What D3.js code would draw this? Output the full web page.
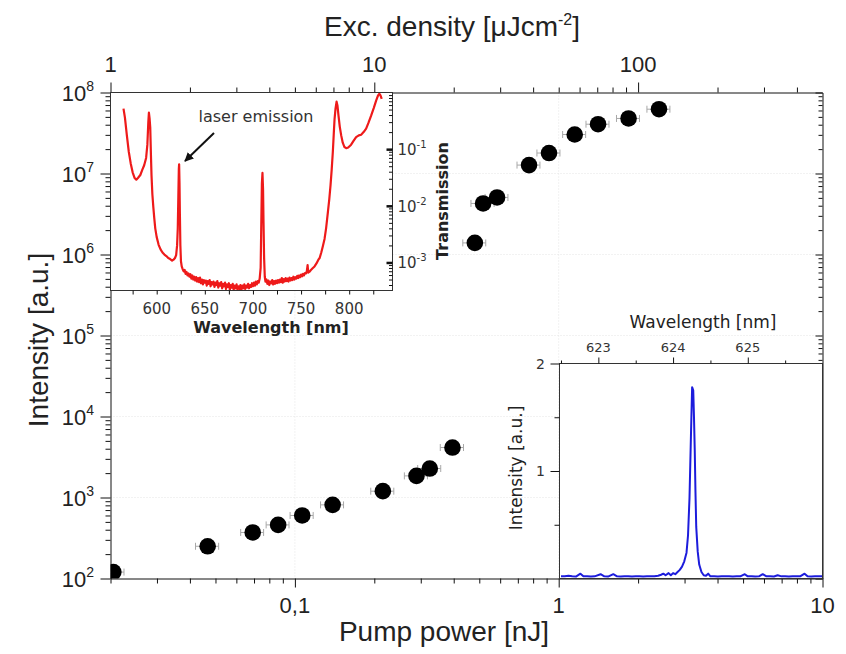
<!DOCTYPE html>
<html>
<head>
<meta charset="utf-8">
<script src="https://cdn.jsdelivr.net/npm/d3@7"></script>
<style>
  body { margin: 0; background: #fff; }
  svg { display: block; }
</style>
</head>
<body>
<svg id="chart" width="846" height="654"></svg>
<script>
// ---------- Lasing threshold data (pump power in nJ vs. emitted intensity) ----------
const powerBelow = [0.0205, 0.0467, 0.0692, 0.0864, 0.1066, 0.139, 0.2155, 0.289, 0.3246, 0.3957];
const intensityBelow = [120, 250, 370, 459, 600, 811, 1197, 1849, 2280, 4140];
const powerErrBelow = [0.002, 0.0047, 0.0069, 0.0086, 0.0107, 0.0139, 0.0216, 0.029, 0.0325, 0.04];

const powerAbove = [0.481, 0.517, 0.584, 0.772, 0.919, 1.15, 1.41, 1.84, 2.40];
const intensityAbove = [1.39e6, 4.27e6, 5.06e6, 1.27e7, 1.79e7, 3.03e7, 4.06e7, 4.78e7, 6.22e7];
const powerErrAbove = [0.048, 0.052, 0.058, 0.077, 0.092, 0.115, 0.141, 0.184, 0.24];

// Tick labels of the main axes
const powerTicks = [0.1, 1, 10];
const powerTickLabels = ["0,1", "1", "10"];
const densityTicks = [1, 10, 100];
const densityTickLabels = ["1", "10", "100"];
const intensityTicks = [1e2, 1e3, 1e4, 1e5, 1e6, 1e7, 1e8];
const intensityExponents = ["2", "3", "4", "5", "6", "7", "8"];

// ---------- Transmission spectrum of the resonator (upper-left inset) ----------
const specWl = [
  565.5, 567, 569, 571, 573, 575, 577, 578.8, 580.5, 583, 585, 587, 589, 590.3, 591.3, 591.9, 592.6, 593.3,
  594, 594.6, 595.5, 596.5, 597.5, 598.5, 600, 602, 604, 606, 608, 610, 612, 614, 616, 617.5, 619, 620.2,
  621.2, 621.9, 622.5, 623.0, 623.3, 623.7, 624.1, 624.6, 625.2, 626, 627, 628, 629, 630, 631, 632, 633,
  634, 635, 636, 637, 638, 639, 640, 641, 642, 643, 644, 645, 646, 647, 648, 649, 650, 651, 652, 653, 654,
  655, 656, 657, 658, 659, 660, 661, 662, 663, 664, 665, 666, 667, 668, 669, 670, 671, 672, 673, 674, 675,
  676, 677, 678, 679, 680, 681, 682, 683, 684, 685, 686, 687, 688, 689, 690, 691, 692, 693, 694, 695, 696,
  697, 698, 699, 700, 701, 702, 703, 704, 705, 706, 707, 708, 708.6, 709.3, 709.9, 710.5, 711, 711.6, 712.3,
  713, 714, 715, 716, 717, 718, 719, 720, 721, 722, 723, 724, 725, 726, 727, 728, 729, 730, 731, 732, 733,
  734, 735, 736, 737, 738, 739, 740, 741, 742, 743, 744, 745, 746, 747, 748, 749, 750, 751, 752, 753, 754,
  755, 756, 756.8, 757.4, 758.5, 760, 762, 764, 766, 768, 769.3, 771, 772.5, 774.4, 776, 777.9, 779.3,
  780.6, 781.8, 783, 784, 784.8, 785.8, 786.9, 787.8, 788.9, 790.2, 791.7, 793.3, 795.1, 796.9, 799, 802,
  804.5, 807.2, 810, 812.4, 815, 817.6, 820, 822.8, 825.5, 828, 830, 831.4, 832.5, 833.8
];
const specT = [
  5.2e-1, 3.6e-1, 1.75e-1, 9.0e-2, 5.6e-2, 3.9e-2, 3.1e-2, 2.9e-2, 3.1e-2, 3.5e-2, 4.3e-2, 5.2e-2, 7.0e-2,
  1.2e-1, 3.0e-1, 4.4e-1, 3.5e-1, 2.4e-1,
  8.0e-2, 3.5e-2, 1.6e-2, 9.5e-3, 6.0e-3, 4.0e-3, 2.8e-3, 2.05e-3, 1.7e-3, 1.5e-3, 1.38e-3, 1.3e-3, 1.2e-3,
  1.15e-3, 1.08e-3, 1.12e-3, 1.2e-3, 1.35e-3,
  2.0e-3, 4.0e-3, 1.5e-2, 4.5e-2, 5.4e-2, 2.5e-2, 7e-3, 2.0e-3, 1.05e-3, 8.5e-4, 7.6e-4, 7.0e-4, 7.4e-4,
  6.3e-4, 6.8e-4, 5.9e-4, 6.4e-4,
  5.6e-4, 6.2e-4, 5.2e-4, 5.9e-4, 5.0e-4, 5.6e-4, 4.8e-4, 5.5e-4, 4.6e-4, 5.3e-4, 4.5e-4, 5.4e-4, 4.3e-4,
  5.0e-4, 4.1e-4, 4.9e-4, 4.4e-4, 4.8e-4, 3.9e-4, 4.7e-4, 4.2e-4,
  4.9e-4, 3.8e-4, 4.5e-4, 4.1e-4, 4.6e-4, 3.7e-4, 4.4e-4, 4.0e-4, 4.7e-4, 3.6e-4, 4.3e-4, 3.9e-4, 4.5e-4,
  3.5e-4, 4.2e-4, 3.8e-4, 4.4e-4, 3.4e-4, 4.1e-4, 3.7e-4, 4.3e-4,
  3.3e-4, 4.0e-4, 3.6e-4, 4.2e-4, 3.3e-4, 3.9e-4, 3.5e-4, 4.1e-4, 3.3e-4, 3.8e-4, 3.4e-4, 4.0e-4, 3.3e-4,
  3.9e-4, 3.5e-4, 4.1e-4, 3.4e-4, 3.9e-4, 3.6e-4, 4.2e-4, 3.5e-4,
  4.0e-4, 3.7e-4, 4.3e-4, 3.8e-4, 4.4e-4, 3.9e-4, 4.6e-4, 4.1e-4, 4.7e-4, 4.4e-4, 5.2e-4, 8.0e-4, 4.0e-3,
  2.5e-2, 3.8e-2, 2.0e-2, 5.0e-3, 1.2e-3, 5.6e-4,
  4.6e-4, 5.0e-4, 4.2e-4, 4.8e-4, 4.0e-4, 4.6e-4, 4.3e-4, 4.9e-4, 4.1e-4, 4.7e-4, 4.2e-4, 4.8e-4, 4.3e-4,
  4.9e-4, 4.4e-4, 5.0e-4, 4.5e-4, 5.3e-4, 4.4e-4, 5.1e-4, 4.6e-4,
  5.3e-4, 4.7e-4, 5.2e-4, 4.6e-4, 5.4e-4, 4.8e-4, 5.3e-4, 4.9e-4, 5.6e-4, 5.0e-4, 5.5e-4, 5.2e-4, 5.8e-4,
  5.3e-4, 5.9e-4, 5.5e-4, 6.1e-4, 5.7e-4, 6.3e-4, 5.9e-4, 6.5e-4,
  6.4e-4, 7.0e-4, 9.0e-4, 6.6e-4, 6.8e-4, 7.3e-4, 7.9e-4, 8.5e-4, 9.6e-4, 1.12e-3, 1.2e-3, 1.5e-3, 1.9e-3,
  2.6e-3, 4.0e-3, 7.8e-3, 1.3e-2,
  2.3e-2, 4.3e-2, 8.9e-2, 1.9e-1, 3.4e-1, 5.2e-1, 6.9e-1, 5.9e-1, 3.9e-1, 2.5e-1, 1.75e-1, 1.3e-1, 1.09e-1,
  1.04e-1, 1.07e-1, 1.2e-1,
  1.4e-1, 1.63e-1, 1.75e-1, 1.8e-1, 2.0e-1, 2.3e-1, 2.9e-1, 3.9e-1, 5.3e-1, 7.2e-1, 8.9e-1, 9.5e-1, 8.9e-1, 7.7e-1
];
const specTicks = [600, 650, 700, 750, 800];
const specMinorTicks = [575, 625, 675, 725, 775, 825];
const transTicks = [1e-3, 1e-2, 1e-1];
const transExponents = ["-3", "-2", "-1"];

// ---------- Laser line (lower-right inset) ----------
const lineWl = [
  622.50, 622.55, 622.60, 622.65, 622.70, 622.76, 622.80, 622.85, 622.90, 622.95, 623.03, 623.08, 623.13,
  623.20, 623.25, 623.30, 623.35, 623.40, 623.45, 623.50, 623.55, 623.60, 623.65, 623.70, 623.75, 623.80,
  623.84, 623.87, 623.90, 623.94, 623.97, 624.00, 624.03, 624.06, 624.09, 624.12, 624.15, 624.18, 624.20,
  624.22, 624.24, 624.255, 624.27, 624.28, 624.29, 624.30, 624.31, 624.33, 624.35, 624.38, 624.41, 624.44,
  624.47, 624.50, 624.55, 624.60, 624.65, 624.70, 624.75, 624.80, 624.85, 624.90, 624.96, 625.00, 625.05,
  625.10, 625.15, 625.20, 625.25, 625.30, 625.35, 625.40, 625.45, 625.50, 625.55, 625.60, 625.65, 625.70,
  625.76, 625.80, 625.85, 625.90, 625.95, 626.00
];
const lineI = [
  0.02, 0.02, 0.025, 0.02, 0.018, 0.045, 0.02, 0.022, 0.018, 0.02, 0.04, 0.02, 0.018,
  0.04, 0.02, 0.018, 0.02, 0.022, 0.018, 0.02, 0.02, 0.018, 0.02, 0.022, 0.02, 0.025,
  0.035, 0.045, 0.03, 0.05, 0.03, 0.05, 0.04, 0.06, 0.08, 0.11, 0.16, 0.24, 0.40,
  0.75, 1.35, 1.78, 1.75, 1.50, 1.20, 0.80, 0.48, 0.25, 0.13, 0.06, 0.03, 0.025,
  0.045, 0.02, 0.02, 0.018, 0.02, 0.022, 0.02, 0.018, 0.02, 0.02, 0.04, 0.02, 0.022,
  0.018, 0.02, 0.04, 0.02, 0.02, 0.018, 0.03, 0.02, 0.02, 0.018, 0.022, 0.02, 0.02,
  0.045, 0.02, 0.018, 0.02, 0.022, 0.02
];
const lineWlTicks = [623, 624, 625];
const lineWlMinor = [622.5, 623.5, 624.5, 625.5];
const lineITicks = [1, 2];
const lineIMinor = [0.5, 1.5];

// ---------- Layout ----------
const svg = d3.select("#chart");
const TICK_FONT = "'Liberation Sans', Arial, sans-serif";
const INSET_FONT = "'DejaVu Sans', Verdana, sans-serif";
const P = { l: 110.5, r: 822.5, t: 92.5, b: 578.5 };

const x = d3.scaleLog().domain([0.02, 10]).range([P.l, P.r]);
const xTop = d3.scaleLog().domain([1, 500]).range([P.l, P.r]);
const y = d3.scaleLog().domain([1e2, 1e8]).range([P.b, P.t]);

function logMinors(lo, hi) {
  const out = [];
  for (let e = Math.floor(Math.log10(lo)); e <= Math.ceil(Math.log10(hi)); e++) {
    for (let m = 2; m <= 9; m++) {
      const v = m * Math.pow(10, e);
      if (v >= lo * 0.999 && v <= hi * 1.001) out.push(v);
    }
  }
  return out;
}

function styleAxis(g, width) {
  g.selectAll("path.domain").attr("stroke", "#111").attr("stroke-width", width || 1);
  g.selectAll(".tick line").attr("stroke", "#111");
}

// faint dotted grid at the major decades
const grid = svg.append("g");
grid.selectAll("line.gx").data([0.1, 1]).join("line")
  .attr("x1", d => x(d)).attr("x2", d => x(d)).attr("y1", P.t).attr("y2", P.b)
  .attr("stroke", "#e4e4e4").attr("stroke-dasharray", "1,2");
grid.selectAll("line.gy").data([1e3, 1e4, 1e5, 1e6, 1e7]).join("line")
  .attr("x1", P.l).attr("x2", P.r).attr("y1", d => y(d)).attr("y2", d => y(d))
  .attr("stroke", "#e4e4e4").attr("stroke-dasharray", "1,2");

// ---------- Main axes ----------
const gBottom = svg.append("g").attr("transform", `translate(0,${P.b})`)
  .call(d3.axisBottom(x).tickValues(powerTicks).tickSize(9).tickSizeOuter(0).tickFormat(""));
svg.append("g").attr("transform", `translate(0,${P.b})`)
  .call(d3.axisBottom(x).tickValues(logMinors(0.02, 10)).tickSize(5).tickSizeOuter(0).tickFormat(""))
  .call(g => g.select("path.domain").remove()).call(styleAxis);
styleAxis(gBottom);
svg.append("g").selectAll("text").data(powerTicks).join("text")
  .attr("x", d => x(d)).attr("y", 613).attr("text-anchor", "middle")
  .attr("font-family", TICK_FONT).attr("font-size", 22).attr("fill", "#222")
  .text((d, i) => powerTickLabels[i]);

const gTop = svg.append("g").attr("transform", `translate(0,${P.t})`)
  .call(d3.axisTop(xTop).tickValues(densityTicks).tickSize(10).tickSizeOuter(0).tickFormat(""));
svg.append("g").attr("transform", `translate(0,${P.t})`)
  .call(d3.axisTop(xTop).tickValues(logMinors(1, 500).filter(v => v < 499)).tickSize(5).tickSizeOuter(0).tickFormat(""))
  .call(g => g.select("path.domain").remove()).call(styleAxis);
styleAxis(gTop);
svg.append("g").selectAll("text").data(densityTicks).join("text")
  .attr("x", d => xTop(d)).attr("y", 72).attr("text-anchor", "middle")
  .attr("font-family", TICK_FONT).attr("font-size", 22).attr("fill", "#222")
  .text((d, i) => densityTickLabels[i]);

const gLeft = svg.append("g").attr("transform", `translate(${P.l},0)`)
  .call(d3.axisLeft(y).tickValues(intensityTicks).tickSize(10).tickSizeOuter(0).tickFormat(""));
svg.append("g").attr("transform", `translate(${P.l},0)`)
  .call(d3.axisLeft(y).tickValues(logMinors(1e2, 1e8)).tickSize(5).tickSizeOuter(0).tickFormat(""))
  .call(g => g.select("path.domain").remove()).call(styleAxis);
styleAxis(gLeft);
const yLab = svg.append("g").selectAll("text").data(intensityTicks).join("text")
  .attr("x", 94).attr("y", d => y(d) + 8).attr("text-anchor", "end")
  .attr("font-family", TICK_FONT).attr("font-size", 22).attr("fill", "#222");
yLab.append("tspan").text("10");
yLab.append("tspan").attr("dy", -10).attr("font-size", 14).text((d, i) => intensityExponents[i]);

const gRight = svg.append("g").attr("transform", `translate(${P.r},0)`)
  .call(d3.axisRight(y).tickValues(intensityTicks).tickSize(-7).tickSizeOuter(0).tickFormat(""));
svg.append("g").attr("transform", `translate(${P.r},0)`)
  .call(d3.axisRight(y).tickValues(logMinors(1e2, 1e8)).tickSize(-4).tickSizeOuter(0).tickFormat(""))
  .call(g => g.select("path.domain").remove()).call(styleAxis);
styleAxis(gRight);

// ---------- Data points with horizontal error bars ----------
svg.append("clipPath").attr("id", "plotClip").append("rect")
  .attr("x", P.l).attr("y", P.t).attr("width", P.r - P.l).attr("height", P.b - P.t);

const points = powerBelow.map((p, i) => ({ p, I: intensityBelow[i], e: powerErrBelow[i] }))
  .concat(powerAbove.map((p, i) => ({ p, I: intensityAbove[i], e: powerErrAbove[i] })));

const gPts = svg.append("g").attr("clip-path", "url(#plotClip)");
const eb = gPts.selectAll("g.eb").data(points).join("g").attr("stroke", "#a8a8a8").attr("stroke-width", 1);
eb.append("line").attr("x1", d => x(d.p - d.e)).attr("x2", d => x(d.p + d.e))
  .attr("y1", d => y(d.I)).attr("y2", d => y(d.I));
eb.append("line").attr("x1", d => x(d.p - d.e)).attr("x2", d => x(d.p - d.e))
  .attr("y1", d => y(d.I) - 3.5).attr("y2", d => y(d.I) + 3.5);
eb.append("line").attr("x1", d => x(d.p + d.e)).attr("x2", d => x(d.p + d.e))
  .attr("y1", d => y(d.I) - 3.5).attr("y2", d => y(d.I) + 3.5);
gPts.selectAll("circle").data(points).join("circle")
  .attr("cx", d => x(d.p)).attr("cy", d => y(d.I)).attr("r", 8.3).attr("fill", "#000");

// ---------- Upper-left inset: transmission spectrum ----------
const A = { l: 110.5, r: 392.5, t: 92.5, b: 290.5 };
const xs = d3.scaleLinear().domain([552, 845]).range([A.l, A.r]);
const ys = d3.scaleLog().domain([3.2e-4, 1]).range([A.b, A.t]);
const inset1 = svg.append("g");
inset1.append("rect").attr("x", A.l).attr("y", A.t).attr("width", A.r - A.l).attr("height", A.b - A.t)
  .attr("fill", "#fff");
inset1.append("clipPath").attr("id", "specClip").append("rect")
  .attr("x", A.l).attr("y", A.t - 2).attr("width", A.r - A.l).attr("height", A.b - A.t + 2);
inset1.append("path")
  .datum(specWl.map((w, i) => [w, specT[i]]))
  .attr("clip-path", "url(#specClip)")
  .attr("fill", "none").attr("stroke", "#ee1a1a").attr("stroke-width", 2.2).attr("stroke-linejoin", "round")
  .attr("d", d3.line().x(d => xs(d[0])).y(d => ys(d[1])));
inset1.append("rect").attr("x", A.l).attr("y", A.t).attr("width", A.r - A.l).attr("height", A.b - A.t)
  .attr("fill", "none").attr("stroke", "#333").attr("stroke-width", 1);

const gA1 = inset1.append("g").attr("transform", `translate(0,${A.b})`)
  .call(d3.axisBottom(xs).tickValues(specTicks.concat(specMinorTicks)).tickSize(4).tickSizeOuter(0).tickFormat(""));
gA1.select("path.domain").remove(); styleAxis(gA1);
inset1.append("g").selectAll("text").data(specTicks).join("text")
  .attr("x", d => xs(d)).attr("y", 314).attr("text-anchor", "middle")
  .attr("font-family", INSET_FONT).attr("font-size", 15).attr("fill", "#333").text(d => d);
inset1.append("text").attr("x", 271).attr("y", 333).attr("text-anchor", "middle")
  .attr("font-family", INSET_FONT).attr("font-size", 16).attr("font-weight", "bold").attr("fill", "#222")
  .text("Wavelength [nm]");

const gA2 = inset1.append("g").attr("transform", `translate(${A.r},0)`)
  .call(d3.axisRight(ys).tickValues(transTicks).tickSize(-6).tickSizeOuter(0).tickFormat(""));
gA2.select("path.domain").remove(); styleAxis(gA2);
gA2.selectAll(".tick line").attr("stroke-width", 2.5);
const gA3 = inset1.append("g").attr("transform", `translate(${A.r},0)`)
  .call(d3.axisRight(ys).tickValues(logMinors(3.2e-4, 1)).tickSize(-3.5).tickSizeOuter(0).tickFormat(""));
gA3.select("path.domain").remove(); styleAxis(gA3);
const tLab = inset1.append("g").selectAll("text").data(transTicks).join("text")
  .attr("x", A.r + 5).attr("y", d => ys(d) + 6).attr("font-family", INSET_FONT)
  .attr("font-size", 15).attr("fill", "#333");
tLab.append("tspan").text("10");
tLab.append("tspan").attr("dy", -7).attr("font-size", 10).text((d, i) => transExponents[i]);
inset1.append("text").attr("transform", "translate(448,201) rotate(-90)").attr("text-anchor", "middle")
  .attr("font-family", INSET_FONT).attr("font-size", 16).attr("font-weight", "bold").attr("fill", "#222")
  .text("Transmission");

// annotation of the lasing mode
svg.append("defs").append("marker").attr("id", "arrowHead")
  .attr("viewBox", "0 0 10 10").attr("refX", 9).attr("refY", 5)
  .attr("markerWidth", 9).attr("markerHeight", 9).attr("markerUnits", "userSpaceOnUse").attr("orient", "auto")
  .append("path").attr("d", "M0,0 L10,5 L0,10 Z").attr("fill", "#111");
inset1.append("line").attr("x1", 214).attr("y1", 133).attr("x2", 185).attr("y2", 161)
  .attr("stroke", "#111").attr("stroke-width", 2).attr("marker-end", "url(#arrowHead)");
inset1.append("text").attr("x", 256).attr("y", 122).attr("text-anchor", "middle")
  .attr("font-family", INSET_FONT).attr("font-size", 16).attr("fill", "#333").text("laser emission");

// ---------- Lower-right inset: single laser line ----------
const B = { l: 559.5, r: 822.5, t: 363.5, b: 578.5 };
const xb = d3.scaleLinear().domain([622.48, 626]).range([B.l, B.r]);
const yb = d3.scaleLinear().domain([0, 2]).range([B.b, B.t]);
const inset2 = svg.append("g");
inset2.append("rect").attr("x", B.l).attr("y", B.t).attr("width", B.r - B.l).attr("height", B.b - B.t)
  .attr("fill", "#fff");
inset2.append("path")
  .datum(lineWl.map((w, i) => [w, lineI[i]]))
  .attr("fill", "none").attr("stroke", "#1c1cdc").attr("stroke-width", 2).attr("stroke-linejoin", "round")
  .attr("d", d3.line().x(d => xb(d[0])).y(d => yb(d[1])));
inset2.append("rect").attr("x", B.l).attr("y", B.t).attr("width", B.r - B.l).attr("height", B.b - B.t)
  .attr("fill", "none").attr("stroke", "#333").attr("stroke-width", 1);

const gB1 = inset2.append("g").attr("transform", `translate(0,${B.t})`)
  .call(d3.axisTop(xb).tickValues(lineWlTicks).tickSize(6).tickSizeOuter(0).tickFormat(""));
gB1.select("path.domain").remove(); styleAxis(gB1);
const gB2 = inset2.append("g").attr("transform", `translate(0,${B.t})`)
  .call(d3.axisTop(xb).tickValues(lineWlMinor).tickSize(3).tickSizeOuter(0).tickFormat(""));
gB2.select("path.domain").remove(); styleAxis(gB2);
inset2.append("g").selectAll("text").data(lineWlTicks).join("text")
  .attr("x", d => xb(d)).attr("y", 352).attr("text-anchor", "middle")
  .attr("font-family", INSET_FONT).attr("font-size", 13).attr("fill", "#333").text(d => d);
inset2.append("text").attr("x", 703).attr("y", 328).attr("text-anchor", "middle")
  .attr("font-family", INSET_FONT).attr("font-size", 17).attr("fill", "#222").text("Wavelength [nm]");

const gB3 = inset2.append("g").attr("transform", `translate(${B.l},0)`)
  .call(d3.axisLeft(yb).tickValues(lineITicks).tickSize(9).tickSizeOuter(0).tickFormat(""));
gB3.select("path.domain").remove(); styleAxis(gB3);
const gB4 = inset2.append("g").attr("transform", `translate(${B.l},0)`)
  .call(d3.axisLeft(yb).tickValues(lineIMinor).tickSize(5).tickSizeOuter(0).tickFormat(""));
gB4.select("path.domain").remove(); styleAxis(gB4);
inset2.append("g").selectAll("text").data(lineITicks).join("text")
  .attr("x", 545).attr("y", d => yb(d) + 5).attr("text-anchor", "end")
  .attr("font-family", INSET_FONT).attr("font-size", 14).attr("fill", "#333").text(d => d);
inset2.append("text").attr("transform", "translate(522,468) rotate(-90)").attr("text-anchor", "middle")
  .attr("font-family", INSET_FONT).attr("font-size", 17).attr("fill", "#222").text("Intensity [a.u.]");

// ---------- Axis titles ----------
const topTitle = svg.append("text").attr("x", 452).attr("y", 36).attr("text-anchor", "middle")
  .attr("font-family", TICK_FONT).attr("font-size", 28).attr("fill", "#222");
topTitle.append("tspan").text("Exc. density [\u03bcJcm");
topTitle.append("tspan").attr("dy", -11).attr("font-size", 16).text("-2");
topTitle.append("tspan").attr("dy", 11).text("]");

svg.append("text").attr("x", 444).attr("y", 641).attr("text-anchor", "middle")
  .attr("font-family", TICK_FONT).attr("font-size", 28).attr("fill", "#222").text("Pump power [nJ]");
svg.append("text").attr("transform", "translate(48,340) rotate(-90)").attr("text-anchor", "middle")
  .attr("font-family", TICK_FONT).attr("font-size", 28).attr("fill", "#222").text("Intensity [a.u.]");
</script>
</body>
</html>
